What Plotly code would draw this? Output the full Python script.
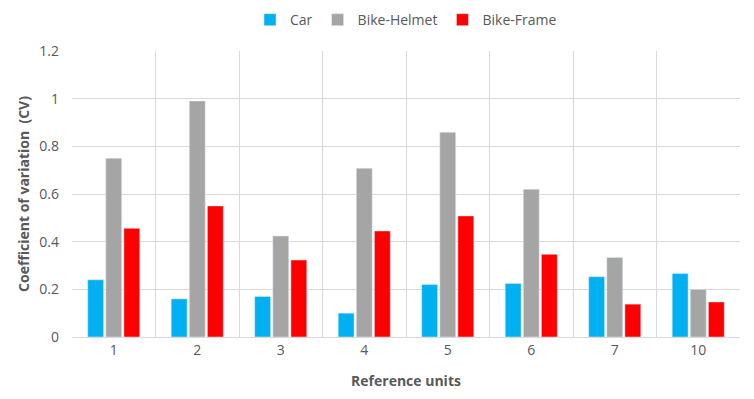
import plotly.graph_objects as go

categories = ["1", "2", "3", "4", "5", "6", "7", "10"]
car = [0.24, 0.16, 0.17, 0.10, 0.22, 0.225, 0.253, 0.266]
bike_helmet = [0.75, 0.99, 0.424, 0.708, 0.859, 0.62, 0.334, 0.20]
bike_frame = [0.456, 0.55, 0.323, 0.445, 0.508, 0.347, 0.138, 0.147]

fig = go.Figure()
fig.add_trace(go.Bar(name="Car", x=categories, y=car, marker_color="#00B0F0"))
fig.add_trace(go.Bar(name="Bike-Helmet", x=categories, y=bike_helmet, marker_color="#A5A5A5"))
fig.add_trace(go.Bar(name="Bike-Frame", x=categories, y=bike_frame, marker_color="#FF0000"))

fig.update_layout(
    width=746, height=391,
    margin=dict(l=64, r=14, t=43, b=62, autoexpand=False),
    paper_bgcolor="white", plot_bgcolor="white",
    barmode="group", bargap=0.35, bargroupgap=0.12,
    font=dict(family="Open Sans, Noto Sans, sans-serif", size=14, color="#595959"),
    legend=dict(orientation="h", x=0.5, xanchor="center", y=1.108, yref="paper",
                yanchor="middle", font=dict(size=14, color="#595959"), itemwidth=30,
                tracegroupgap=0),
    xaxis=dict(type="category", tickson="boundaries", ticks="", showgrid=True,
               gridcolor="#D9D9D9", showline=True, linecolor="#D9D9D9",
               title=dict(text="<b>Reference units</b>", font=dict(size=14, color="#595959"), standoff=18)),
    yaxis=dict(range=[0, 1.2], dtick=0.2, showgrid=True, gridcolor="#D9D9D9",
               zeroline=False, ticks="", ticklabelstandoff=12,
               title=dict(text="<b>Coefficient of variation  (CV)</b>", font=dict(size=14, color="#595959"), standoff=6)),
    showlegend=True,
)
fig.write_html("out.html")
